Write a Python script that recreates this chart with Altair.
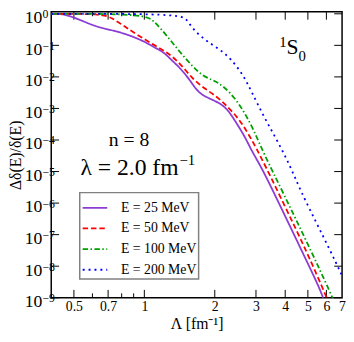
import altair as alt
import pandas as pd

SERIF = "Liberation Serif"

# ---------------- data ----------------
series_names = ["E = 25 MeV", "E = 50 MeV", "E = 100 MeV", "E = 200 MeV"]
series_colors = ["#8c3cd2", "#ff0000", "#00a000", "#0000ff"]
series_dashes = [[1, 0], [5.5, 3], [5.5, 2.5, 1.5, 2.5], [2, 4]]

lam_e25 = [0.40, 0.457, 0.544, 0.639, 0.750, 0.880, 1.032, 1.10, 1.211, 1.29, 1.42,
           1.563, 1.668, 1.778, 1.958, 2.154, 2.296, 2.446, 2.694, 2.873, 3.162, 3.59,
           4.35, 5.03, 5.8, 6.1]
val_e25 = [1.0, 1.0, 0.592, 0.366, 0.288, 0.201, 0.118, 0.0869, 0.0605, 0.0374, 0.0195,
           0.00809, 0.00389, 0.00257, 0.00188, 0.00132, 8.13e-4, 3.98e-4, 1.26e-4, 4.57e-5,
           1.38e-5, 2.04e-6, 1.05e-7, 1.1e-8, 1.2e-9, 3.0e-10]

lam_e50 = [0.40, 0.657, 0.726, 0.825, 0.938, 1.10, 1.25, 1.42, 1.616, 1.835, 2.085,
           2.296, 2.526, 2.77, 3.06, 4.0, 5.0, 6.03, 6.3]
val_e50 = [1.0, 1.0, 0.75, 0.393, 0.210, 0.102, 0.0605, 0.0275, 0.00813, 0.00398, 0.00211,
           0.00102, 4.9e-4, 1.66e-4, 4.57e-5, 7.7e-7, 2.4e-8, 1.0e-9, 4.0e-10]

lam_e100 = [0.40, 1.0, 1.1, 1.25, 1.42, 1.616, 1.778, 1.958, 2.154, 2.446, 2.694, 2.965,
            3.20, 3.96, 5.0, 6.39, 6.6]
val_e100 = [1.0, 1.0, 0.592, 0.201, 0.0605, 0.0206, 0.0108, 0.00794, 0.00553, 0.00211,
            7.0e-4, 1.78e-4, 4.47e-5, 1.82e-6, 5.0e-8, 1.0e-9, 5.0e-10]

lam_e200 = [0.40, 1.417, 1.515, 1.563, 1.668, 1.835, 2.085, 2.334, 2.65, 2.873, 3.26,
            3.71, 4.22, 4.64, 5.44, 6.19, 7.0]
val_e200 = [1.0, 1.0, 0.664, 0.463, 0.255, 0.141, 0.0767, 0.0394, 0.01135, 3.39e-3,
            5.01e-4, 9.33e-5, 1.38e-5, 2.57e-6, 2.34e-7, 3.47e-8, 5.0e-9]

x_major = [0.5, 0.7, 1, 2, 3, 4, 5, 6]
x_labels = [0.5, 0.7, 1, 2, 3, 4, 5, 6, 7]
x_minor = [0.6, 0.8, 0.9]
y_major = [1e0, 1e-1, 1e-2, 1e-3, 1e-4, 1e-5, 1e-6, 1e-7, 1e-8, 1e-9]
y_exps = ["0", "\u22121", "\u22122", "\u22123", "\u22124", "\u22125", "\u22126", "\u22127",
          "\u22128", "\u22129"]

# annotations (data coordinates)
n_text, n_lam, n_val = "n = 8", 0.86, 6.6e-5
lam_text, lam_lam, lam_val = "\u03bb = 2.0 fm", 1.40, 7.6e-6
lam_exp = "\u22121"
s_text, s_lam, s_val = "S", 4.30, 0.0525
s_sup, s_sub = "1", "0"

# ---------------- build tables ----------------
rows = []
for name, lams, vals in zip(series_names,
                            [lam_e25, lam_e50, lam_e100, lam_e200],
                            [val_e25, val_e50, val_e100, val_e200]):
    for i, (l, v) in enumerate(zip(lams, vals)):
        rows.append({"series": name, "lam": l, "val": v, "idx": i})
df = pd.DataFrame(rows)

W, H = 296, 291
xscale = alt.Scale(type="log", domain=[0.4, 7.0], nice=False)
yscale = alt.Scale(type="log", domain=[1e-9, 1.155], nice=False)

xaxis = alt.Axis(values=x_labels, format="~g", ticks=False, domain=False, grid=False,
                 labelFont=SERIF, labelFontSize=14, labelColor="black",
                 labelPadding=2, labelFlush=False,
                 title="\u039b [fm\u207b\u00b9]", titleFont=SERIF, titleFontSize=16,
                 titleFontWeight="normal", titleColor="black", titlePadding=2)
yaxis = alt.Axis(labels=False, ticks=False, domain=False, grid=False,
                 title="\u0394\u03b4(E)/\u03b4(E)", titleFont=SERIF, titleFontSize=16,
                 titleFontWeight="normal", titleColor="black", titlePadding=28)
X = alt.X("lam:Q", scale=xscale, axis=xaxis)
Y = alt.Y("val:Q", scale=yscale, axis=yaxis)

legend = alt.Legend(orient="none", legendX=29, legendY=184, title=None,
                    symbolType="stroke", symbolSize=625, symbolStrokeWidth=1.8,
                    labelFont=SERIF, labelFontSize=14, labelColor="black",
                    labelOffset=13, strokeColor="#808080", fillColor="white",
                    padding=2, rowPadding=-8.5,
                    labelExpr="datum.label + '\u00a0\u00a0\u00a0\u00a0'")

lines = alt.Chart(df).mark_line(clip=True, strokeWidth=1.8, interpolate="basis").encode(
    x=X, y=Y,
    color=alt.Color("series:N", scale=alt.Scale(domain=series_names, range=series_colors),
                    legend=legend),
    strokeDash=alt.StrokeDash("series:N", scale=alt.Scale(domain=series_names, range=series_dashes),
                              legend=legend),
    order="idx:Q",
)

xmaj_df = pd.DataFrame({"lam": x_major})
xmin_df = pd.DataFrame({"lam": x_minor})
ymaj_df = pd.DataFrame({"val": y_major, "exp": y_exps})

def xrule(d, y0, y1):
    return alt.Chart(d).mark_rule(color="black", strokeWidth=1).encode(
        x=X, y=alt.value(y0), y2=alt.value(y1))

def yrule(x0, x1):
    return alt.Chart(ymaj_df).mark_rule(color="black", strokeWidth=1).encode(
        y=Y, x=alt.value(x0), x2=alt.value(x1))

ticks = [xrule(xmaj_df, 0, 8), xrule(xmaj_df, H, H - 8),
         xrule(xmin_df, 0, 4.5), xrule(xmin_df, H, H - 4.5),
         yrule(0, 8), yrule(W, W - 8)]

ylab10 = alt.Chart(ymaj_df).mark_text(align="right", baseline="alphabetic", dy=9.5,
                                      font=SERIF, fontSize=18, color="black").encode(
    x=alt.value(-9), y=Y, text=alt.value("10"))
ylabexp = alt.Chart(ymaj_df).mark_text(align="left", baseline="alphabetic", dy=4.5,
                                       font=SERIF, fontSize=12, color="black").encode(
    x=alt.value(-9), y=Y, text="exp:N")

def ann(text, lam, val, size, align, dx=0, dy=0):
    d = pd.DataFrame({"t": [text], "lam": [lam], "val": [val]})
    return alt.Chart(d).mark_text(align=align, baseline="alphabetic", font=SERIF,
                                  fontSize=size, color="black", dx=dx, dy=dy).encode(
        x=X, y=Y, text="t:N")

ann_layers = [
    ann(n_text, n_lam, n_val, 20, "center"),
    ann(lam_text, lam_lam, lam_val, 24, "right"),
    ann(lam_exp, lam_lam, lam_val, 15, "left", dx=1, dy=-10),
    ann(s_text, s_lam, s_val, 22, "center"),
    ann(s_sup, s_lam, s_val, 15, "right", dx=-6, dy=-7),
    ann(s_sub, s_lam, s_val, 15, "left", dx=6, dy=7),
]

chart = alt.layer(*ticks, lines, ylab10, ylabexp, *ann_layers).properties(
    width=W, height=H,
    autosize=alt.AutoSizeParams(type="none"),
    padding={"left": 44, "top": 1, "right": 4, "bottom": 34},
).configure_view(stroke="black", strokeWidth=1.5).configure_legend(strokeWidth=1.5)

chart.save("out.html", embed_options={"renderer": "svg", "actions": False})
